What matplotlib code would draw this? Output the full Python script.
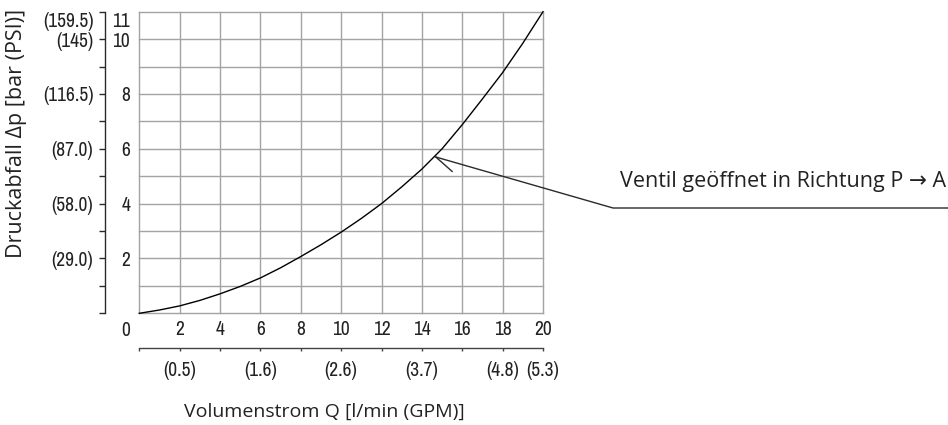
import matplotlib
matplotlib.use("Agg")
import matplotlib.pyplot as plt
import matplotlib.transforms as mtrans
import matplotlib.font_manager as fm

# ---- data ----
flow_lpm = [0, 1, 2, 3, 4, 5, 6, 7, 8, 9, 10, 11, 12, 13, 14, 15, 16, 17, 18, 19, 20]
dp_bar = [0, 0.12, 0.27, 0.47, 0.71, 0.98, 1.29, 1.66, 2.07, 2.50, 2.96, 3.46,
          4.00, 4.61, 5.26, 6.00, 6.88, 7.82, 8.78, 9.85, 11.0]

x_ticks = [0, 2, 4, 6, 8, 10, 12, 14, 16, 18, 20]
x_labels = ["", "2", "4", "6", "8", "10", "12", "14", "16", "18", "20"]
y_ticks = [0, 1, 2, 3, 4, 5, 6, 7, 8, 9, 10, 11]
bar_label_pos = [2, 4, 6, 8, 10, 11]
bar_labels = ["2", "4", "6", "8", "10", "11"]
psi_labels = {2: "(29.0)", 4: "(58.0)", 6: "(87.0)", 8: "(116.5)", 10: "(145)", 11: "(159.5)"}
gpm_pos = [2, 6, 10, 14, 18, 20]
gpm_labels = ["(0.5)", "(1.6)", "(2.6)", "(3.7)", "(4.8)", "(5.3)"]

annot_text = "Ventil geöffnet in Richtung P \u2192 A"
annot_xy = (14.69, 5.70)

W, H = 948, 425
installed = sorted({f.name for f in fm.fontManager.ttflist})
condensed = [n for n in installed if ("Narrow" in n or "Condensed" in n) and "Mono" not in n]
if condensed:
    NUM_FONT = [condensed[0], "DejaVu Sans"]
    NUM_SIZE = 14
else:
    NUM_FONT = ["Roboto", "DejaVu Sans"]
    NUM_SIZE = 11.5
TXT_FONT = ["Open Sans", "DejaVu Sans"]
GRID = "#a3a3a3"
DARK = "#2a2a2a"
TXT = "#222222"

def px_rect(l, t, r, b):
    return [l / W, 1 - b / H, (r - l) / W, (b - t) / H]

fig = plt.figure(figsize=(W / 100, H / 100), dpi=100)
ax = fig.add_axes(px_rect(139.3, 11.7, 543, 313.3))
ax.set_xlim(0, 20)
ax.set_ylim(0, 11)

# grid
for xv in x_ticks:
    ax.axvline(xv, color=GRID, lw=1.0, clip_on=False, zorder=1)
for yv in y_ticks:
    ax.axhline(yv, color=GRID, lw=1.0, clip_on=False, zorder=1)

for s in ["top", "right", "bottom"]:
    ax.spines[s].set_visible(False)

# left spine offset
ax.spines["left"].set_position(("outward", 34.3 * 0.72))
ax.spines["left"].set_color(DARK)
ax.spines["left"].set_linewidth(1.0)
ax.set_yticks(y_ticks)
ax.set_yticklabels([psi_labels.get(v, "") for v in y_ticks], fontfamily=NUM_FONT, fontsize=NUM_SIZE)
ax.tick_params(axis="y", direction="out", length=4.3, width=1.0, color=DARK, pad=4.0, labelcolor=TXT)
top_lab = ax.get_yticklabels()[-1]
top_lab.set_va("top")
top_lab.set_y(top_lab.get_position()[1])

ax.set_xticks(x_ticks)
ax.set_xticklabels(x_labels, fontfamily=NUM_FONT, fontsize=NUM_SIZE)
ax.tick_params(axis="x", length=0, pad=5, labelcolor=TXT)

# bar labels between spine and plot
bar_trans = mtrans.blended_transform_factory(fig.transFigure, ax.transData)
for yv, lab in zip(bar_label_pos, bar_labels):
    ax.text(130 / W, yv, lab, transform=bar_trans, ha="right",
            va="top" if yv == max(bar_label_pos) else "center_baseline",
            fontfamily=NUM_FONT, fontsize=NUM_SIZE, color=TXT)
fig.text(130 / W, 1 - 330 / H, "0", ha="right", va="center", fontfamily=NUM_FONT,
         fontsize=NUM_SIZE, color=TXT)

# curve
ax.plot(flow_lpm, dp_bar, color="black", lw=1.0, zorder=3, clip_on=False)

# annotation leader
fig.canvas.draw()
inv = ax.transData.inverted()
bend = inv.transform((613, H - 208))
endp = inv.transform((948, H - 208))
tip_disp = ax.transData.transform(annot_xy)
barb = inv.transform((tip_disp[0] + 16.3, tip_disp[1] - 14.4))
ax.plot([annot_xy[0], bend[0], endp[0]], [annot_xy[1], bend[1], endp[1]],
        color=DARK, lw=1.0, clip_on=False, zorder=4)
ax.plot([annot_xy[0], barb[0]], [annot_xy[1], barb[1]], color=DARK, lw=1.0, clip_on=False, zorder=4)
fig.text(946 / W, 1 - 182 / H, annot_text, ha="right", va="center", fontfamily=TXT_FONT,
         fontsize=15.5, color=TXT)

# secondary GPM axis
ax2 = fig.add_axes(px_rect(139.3, 347.3, 543, 348.3))
ax2.set_xlim(0, 20)
ax2.patch.set_visible(False)
for s in ["top", "right", "left"]:
    ax2.spines[s].set_visible(False)
ax2.spines["bottom"].set_color("#444444")
ax2.spines["bottom"].set_linewidth(1.0)
ax2.set_yticks([])
ax2.set_xticks(x_ticks)
ax2.set_xticklabels([gpm_labels[gpm_pos.index(v)] if v in gpm_pos else "" for v in x_ticks],
                    fontfamily=NUM_FONT, fontsize=NUM_SIZE)
ax2.tick_params(axis="x", direction="out", length=2.5, width=1.0, color="#444444", pad=7,
                labelcolor=TXT)

# axis titles
fig.text(324 / W, 1 - 411.7 / H, "Volumenstrom Q [l/min (GPM)]", ha="center", va="center",
         fontfamily=TXT_FONT, fontsize=14, color=TXT)
fig.text(17 / W, 1 - 133 / H, "Druckabfall \u0394p [bar (PSI)]", ha="center", va="center",
         rotation=90, fontfamily=TXT_FONT, fontsize=15.5, color=TXT)

fig.savefig("out.png", dpi=100)
